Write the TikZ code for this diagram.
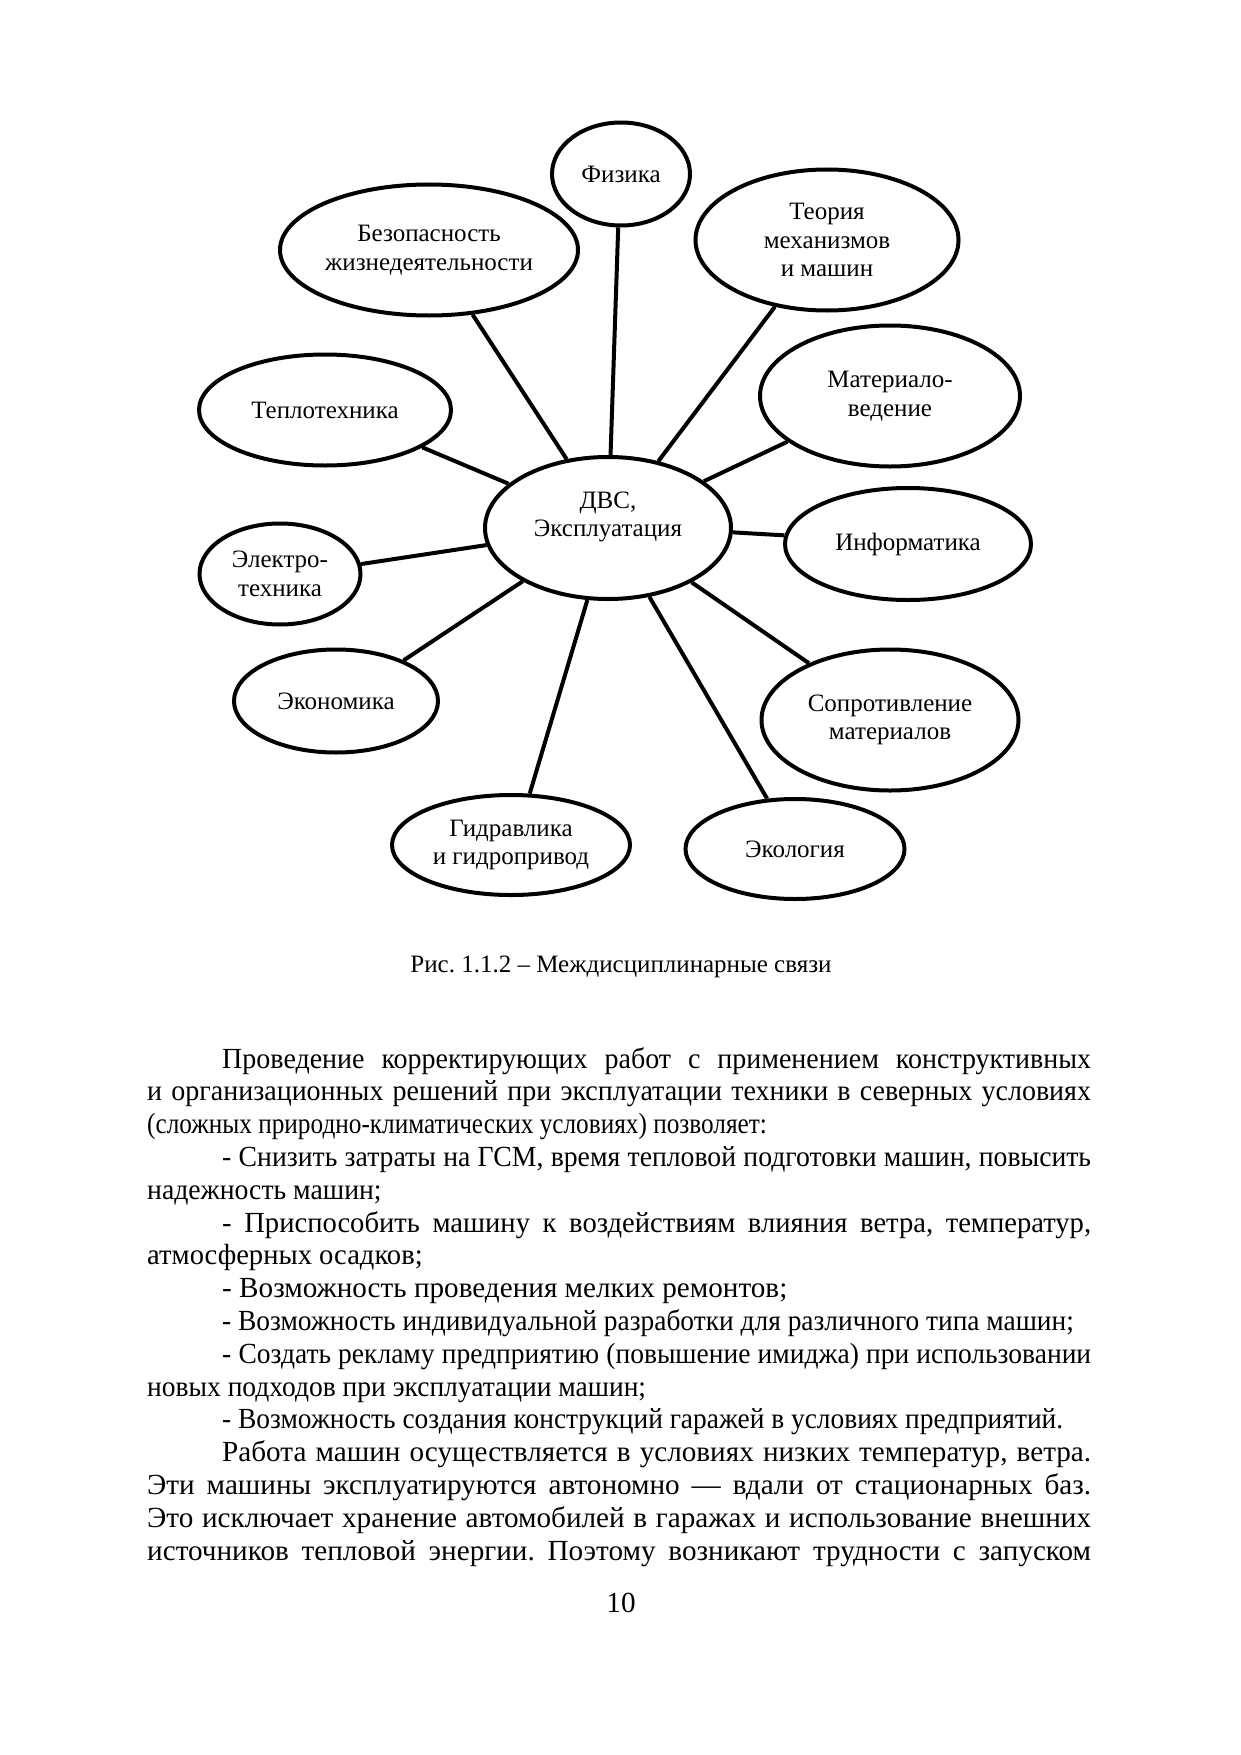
\documentclass[tikz,border=0pt]{standalone}
\usepackage{fontspec}
\usepackage{graphicx}
\setmainfont{Liberation Serif}
\usetikzlibrary{shapes.geometric}
\frenchspacing
\newcommand\dfont{\fontsize{25}{28.75}\selectfont}
\newcommand\bfont{\fontsize{29.17}{32.8}\selectfont}
% #1 horizontal factor, #2 box width before scaling, #3 text
\newcommand\jline[3]{\scalebox{#1}[1]{\makebox[#2][s]{#3}}}
\newcommand\condline[2]{\scalebox{#1}[1]{#2}}
\begin{document}
\begin{tikzpicture}[x=1pt,y=-1pt,
  ell/.style={draw, ellipse, line width=4pt, inner sep=0pt, align=center, font=\dfont},
  link/.style={line width=4pt},
  txt/.style={inner sep=0pt, anchor=base west, font=\bfont},
  lbl/.style={inner sep=0pt, font=\dfont, align=center}]
\fill[white] (0,0) rectangle (1241,1755);
\useasboundingbox (0,0) rectangle (1241,1755);

% ellipses
\node[ell, minimum width=138, minimum height=103] (fiz) at (621,174) {Физика};
\node[ell, minimum width=298, minimum height=131] (bzh) at (429,250) {Безопасность\\жизнедеятельности};
\node[ell, minimum width=252, minimum height=111] (tep) at (325,410) {Теплотехника};
\node[ell, minimum width=263, minimum height=141] (tmm) at (827,240) {Теория\\механизмов\\и машин};
\node[ell, minimum width=260, minimum height=141] (mat) at (890,396) {Материало-\\ведение};
\node[ell, minimum width=246, minimum height=142] (dvs) at (608,528) {};
\node[lbl] (dvst) at (608,517) {ДВС,\\Эксплуатация};
\node[ell, minimum width=246, minimum height=112] (inf) at (908,544) {Информатика};
\node[ell, minimum width=257, minimum height=141] (sop) at (890,720) {Сопротивление\\материалов};
\node[ell, minimum width=219, minimum height=100] (eco) at (795,849) {Экология};
\node[ell, minimum width=161, minimum height=101] (ele) at (280,574) {Электро-\\техника};
\node[ell, minimum width=204, minimum height=103] (ekn) at (336,701) {Экономика};
\node[ell, minimum width=238, minimum height=100] (gid) at (511,845) {Гидравлика\\и гидропривод};

% connectors
\draw[link] (fiz.267) -- (dvs.88.4);
\draw[link] (bzh.-56) -- (dvs.121.6);
\draw[link] (tep.-21.7) -- (dvs.156.4);
\draw[link] (tmm.232) -- (dvs.53.7);
\draw[link] (mat.204.7) -- (dvs.26.3);
\draw[link] (inf.176.8) -- (dvs.-2.7);
\draw[link] (sop.145) -- (dvs.-33.8);
\draw[link] (eco.119.5) -- (dvs.-59.2);
\draw[link] (ele.7.5) -- (dvs.188);
\draw[link] (ekn.31.8) -- (dvs.212.4);
\draw[link] (gid.70) -- (dvs.254);

% caption
\node[font=\dfont, anchor=base, inner sep=0pt] (cap) at (621,972) {Рис. 1.1.2 – Междисциплинарные связи};

% body text
\node[txt] (p1) at (222,1068) {\jline{0.96}{905.2pt}{Проведение корректирующих работ с применением конструктивных}};
\node[txt] (p2) at (147,1100.8) {\jline{0.96}{983.3pt}{и организационных решений при эксплуатации техники в северных условиях}};
\node[txt] (p3) at (147,1133.6) {\condline{0.866}{(сложных природно-климатических условиях) позволяет:}};
\node[txt] (p4) at (222,1166.4) {\jline{0.95}{914.7pt}{- Снизить затраты на ГСМ, время тепловой подготовки машин, повысить}};
\node[txt] (p5) at (147,1199.2) {\condline{0.95}{надежность машин;}};
\node[txt] (p6) at (222,1232) {\jline{0.98}{886.7pt}{- Приспособить машину к воздействиям влияния ветра, температур,}};
\node[txt] (p7) at (147,1264.8) {\condline{0.98}{атмосферных осадков;}};
\node[txt] (p8) at (222,1297.6) {- Возможность проведения мелких ремонтов;};
\node[txt] (p9) at (222,1330.4) {\condline{0.94}{- Возможность индивидуальной разработки для различного типа машин;}};
\node[txt] (p10) at (222,1363.2) {\jline{0.943}{921.5pt}{- Создать рекламу предприятию (повышение имиджа) при использовании}};
\node[txt] (p11) at (147,1396) {\condline{0.943}{новых подходов при эксплуатации машин;}};
\node[txt] (p12) at (222,1428.8) {\condline{0.94}{- Возможность создания конструкций гаражей в условиях предприятий.}};
\node[txt] (p13) at (222,1461.6) {\jline{1}{869pt}{Работа машин осуществляется в условиях низких температур, ветра.}};
\node[txt] (p14) at (147,1494.4) {\jline{1}{944pt}{Эти машины эксплуатируются автономно — вдали от стационарных баз.}};
\node[txt] (p15) at (147,1527.2) {\jline{1}{944pt}{Это исключает хранение автомобилей в гаражах и использование внешних}};
\node[txt] (p16) at (147,1560) {\jline{1}{944pt}{источников тепловой энергии. Поэтому возникают трудности с запуском}};

% page number
\node[font=\bfont, anchor=base, inner sep=0pt] (pg) at (621,1612) {10};
\end{tikzpicture}
\end{document}
